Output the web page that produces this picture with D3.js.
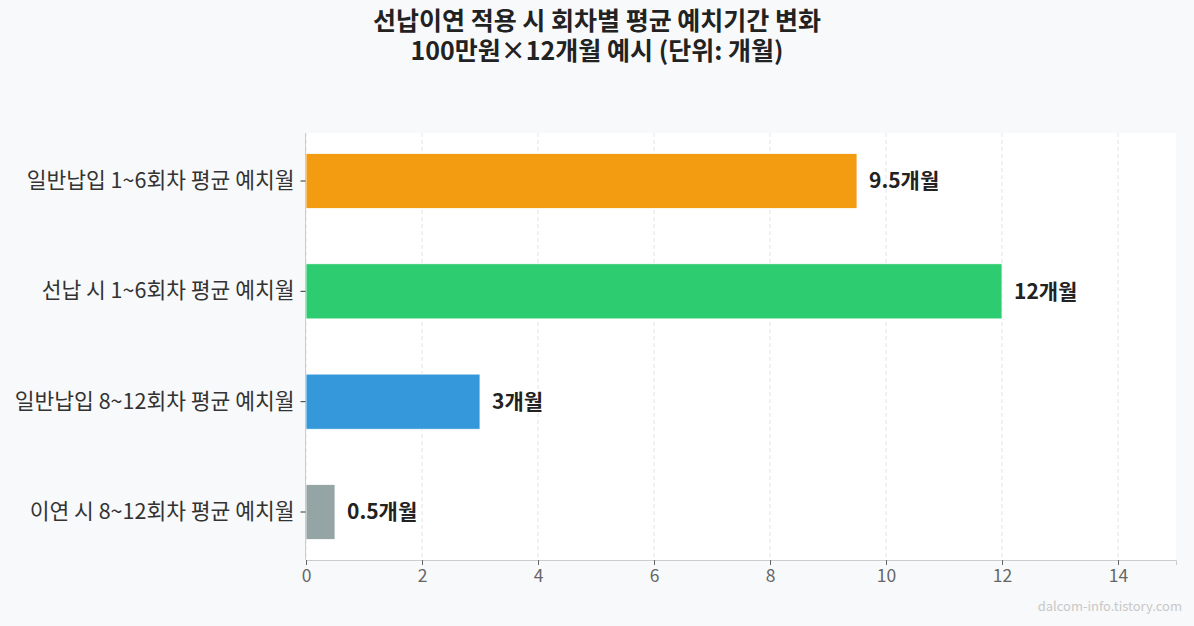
<!DOCTYPE html>
<html>
<head>
<meta charset="utf-8">
<script src="https://cdn.jsdelivr.net/npm/d3@7"></script>
<style>
  html, body { margin: 0; padding: 0; background: #f8f9fa; }
  svg { display: block; font-family: "Noto Sans CJK KR", "Noto Sans", sans-serif; }
</style>
</head>
<body>
<div class="container"></div>
<script>
// data
const categories = [
  "일반납입 1~6회차 평균 예치월",
  "선납 시 1~6회차 평균 예치월",
  "일반납입 8~12회차 평균 예치월",
  "이연 시 8~12회차 평균 예치월"
];
const months = [9.5, 12, 3, 0.5];
const valueLabels = ["9.5개월", "12개월", "3개월", "0.5개월"];
const colors = ["#f39c12", "#2ecc71", "#3498db", "#95a5a6"];
const xTicks = [0, 2, 4, 6, 8, 10, 12, 14];
const titleLines = ["선납이연 적용 시 회차별 평균 예치기간 변화", "100만원×12개월 예시 (단위: 개월)"];

const FONT = '"Noto Sans CJK KR", "Noto Sans", sans-serif';
const width = 1194, height = 626;
const margin = {top: 133, right: 18, bottom: 66, left: 306};

const svg = d3.select(".container").append("svg")
  .attr("width", width)
  .attr("height", height)
  .style("background", "#f8f9fa");

const x = d3.scaleLinear().domain([0, 15]).range([margin.left, width - margin.right]);
const y = d3.scaleBand().domain(categories)
  .range([margin.top, height - margin.bottom])
  .paddingInner(0.5)
  .paddingOuter(0.185);

// plot background
svg.append("rect")
  .attr("x", x(0)).attr("y", margin.top)
  .attr("width", x(15) - x(0)).attr("height", height - margin.bottom - margin.top)
  .attr("fill", "#fff");

// grid
svg.append("g").selectAll("line")
  .data(xTicks)
  .enter().append("line")
  .attr("x1", d => x(d)).attr("x2", d => x(d))
  .attr("y1", margin.top).attr("y2", height - margin.bottom)
  .attr("stroke", "#e3e3e3")
  .attr("stroke-width", 1)
  .attr("stroke-dasharray", "4,3");

// bars
svg.append("g").selectAll("rect")
  .data(categories)
  .enter().append("rect")
  .attr("x", x(0))
  .attr("y", d => y(d))
  .attr("width", (d, i) => x(months[i]) - x(0))
  .attr("height", y.bandwidth())
  .attr("fill", (d, i) => colors[i])
  .attr("stroke", "#fff")
  .attr("stroke-width", 0.8);

// value labels
svg.append("g").selectAll("text")
  .data(categories)
  .enter().append("text")
  .attr("x", (d, i) => x(months[i]) + 12)
  .attr("y", d => y(d) + y.bandwidth() / 2)
  .attr("dy", "0.35em")
  .attr("font-size", 21)
  .attr("font-weight", "bold")
  .attr("fill", "#222")
  .text((d, i) => valueLabels[i]);

// axes
const xAxis = svg.append("g")
  .attr("transform", `translate(0,${height - margin.bottom})`)
  .call(d3.axisBottom(x).tickValues(xTicks).tickSize(5).tickPadding(5))
  .attr("font-family", FONT);
xAxis.select(".domain").attr("stroke", "#ccc");
xAxis.selectAll(".tick line").attr("stroke", "#666");
xAxis.selectAll(".tick text").attr("fill", "#666").attr("font-size", 17.5);

const yAxis = svg.append("g")
  .attr("transform", `translate(${margin.left - 0.5},0)`)
  .call(d3.axisLeft(y).tickSize(5).tickPadding(6))
  .attr("font-family", FONT);
yAxis.select(".domain").attr("stroke", "#ccc").attr("d", `M0,${margin.top}V${height - margin.bottom}`);
yAxis.selectAll(".tick line").attr("stroke", "#333");
yAxis.selectAll(".tick text").attr("fill", "#333").attr("font-size", 21.5);

// title (one text element, two lines)
svg.append("text")
  .attr("text-anchor", "middle")
  .attr("font-size", 25)
  .attr("font-weight", "bold")
  .attr("fill", "#222")
  .selectAll("tspan")
  .data(titleLines)
  .enter().append("tspan")
  .attr("x", width / 2)
  .attr("y", (d, i) => 30 + i * 30)
  .text(d => d);

// watermark
svg.append("text")
  .attr("x", width - 12)
  .attr("y", 611)
  .attr("text-anchor", "end")
  .attr("font-size", 13)
  .attr("fill", "#c8c8c8")
  .text("dalcom-info.tistory.com");
</script>
</body>
</html>
